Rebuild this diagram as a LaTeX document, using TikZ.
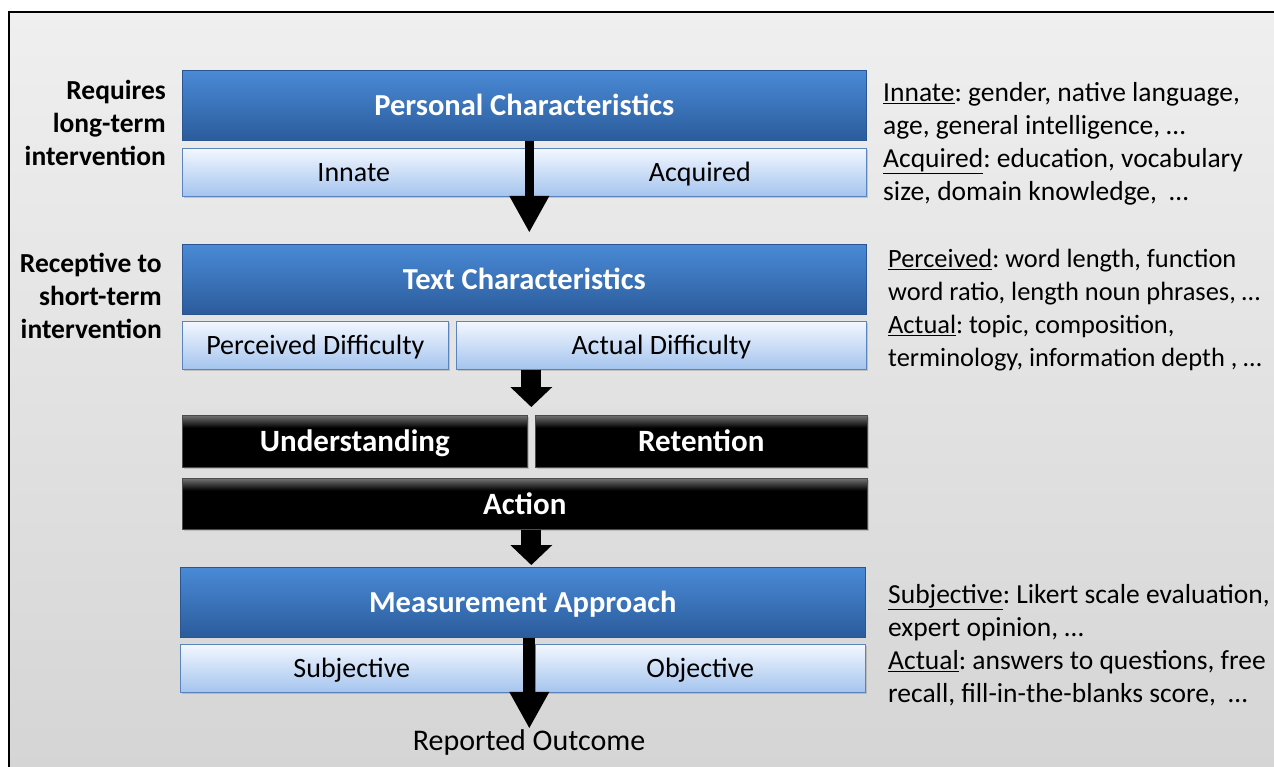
\documentclass[tikz,border=0pt]{standalone}
\usepackage{fontspec}
\setmainfont{Carlito}
\usetikzlibrary{arrows.meta,shadows,calc}
\definecolor{bluetop}{HTML}{4A8AD6}
\definecolor{bluebot}{HTML}{2B5C9C}
\definecolor{blueedge}{HTML}{2A5590}
\definecolor{lighttop}{HTML}{F3F7FF}
\definecolor{lightbot}{HTML}{A4C4EE}
\definecolor{lightedge}{HTML}{5A84BC}
\definecolor{bgtop}{HTML}{EFEFEF}
\definecolor{bgbot}{HTML}{D4D4D4}
\pgfdeclareverticalshading{blkshade}{100bp}{color(0bp)=(black); color(25bp)=(black); color(38bp)=(black); color(50bp)=(black!55)}
\frenchspacing
\begin{document}
\begin{tikzpicture}[x=1pt,y=-1pt,
  bar/.style={anchor=north west, inner sep=0pt, minimum height=70pt,
    top color=bluetop, bottom color=bluebot, draw=blueedge, line width=0.6pt,
    text=white, font=\fontsize{30.5}{34}\selectfont\bfseries,
    text height=27pt, text depth=6.5pt},
  sub/.style={anchor=north west, inner sep=0pt, minimum height=48pt,
    top color=lighttop, bottom color=lightbot, draw=lightedge, line width=0.6pt,
    font=\fontsize{28}{32}\selectfont, text height=24pt, text depth=6pt,
    drop shadow={opacity=0.35, shadow xshift=1.5pt, shadow yshift=-2pt}},
  blk/.style={anchor=north west, inner sep=0pt, minimum height=52pt,
    shading=blkshade, draw=black!70, line width=0.6pt,
    text=white, font=\fontsize{31}{34}\selectfont\bfseries,
    text height=27pt, text depth=6.5pt,
    drop shadow={opacity=0.35, shadow xshift=1.5pt, shadow yshift=-2pt}},
  lefttxt/.style={anchor=north east, inner sep=0pt, align=right,
    font=\fontsize{27.5}{32.8}\selectfont\bfseries},
  righttxt/.style={anchor=north west, inner sep=0pt, align=left,
    font=\fontsize{27.5}{33}\selectfont},
  thinarrow/.style={line width=9pt, -{Triangle[width=40pt,length=36pt,line width=0pt]}},
  fatarrow/.style={line width=20pt, -{Triangle[width=42pt,length=20pt,line width=0pt]}}
]
\useasboundingbox (0,0) rectangle (1274,767);
\clip (0,0) rectangle (1274,767);
\fill[white] (0,0) rectangle (1274,767);
\shade[top color=bgtop, bottom color=bgbot] (9,12) rectangle (1300,800);
\draw[black, line width=2pt] (9,12) rectangle (1300,800);

% Personal characteristics
\node[bar, minimum width=684pt] (pc) at (182,70) {Personal Characteristics};
\node[sub, minimum width=343pt] (innate) at (182,148) {Innate};
\node[sub, minimum width=333pt] (acq) at (533,148) {Acquired};

% Text characteristics
\node[bar, minimum width=684pt] (tc) at (182,244) {Text Characteristics};
\node[sub, minimum width=266pt] (perc) at (182,321) {Perceived Difficulty};
\node[sub, minimum width=410pt] (act) at (456,321) {Actual Difficulty};

% Understanding / Retention / Action
\node[blk, minimum width=345pt] (und) at (182,415) {Understanding};
\node[blk, minimum width=332pt] (ret) at (535,415) {Retention};
\node[blk, minimum width=685pt, minimum height=51pt] (action) at (182,478) {Action};

% Measurement approach
\node[bar, minimum width=685pt] (ma) at (180,567) {Measurement Approach};
\node[sub, minimum width=343pt] (subj) at (180,644) {Subjective};
\node[sub, minimum width=330pt] (obj) at (535,644) {Objective};

\node[inner sep=0pt, font=\fontsize{30}{34}\selectfont] (out) at (529,742) {Reported Outcome};

% midpoints
\path (innate.east) -- (acq.west) coordinate[midway] (m1);
\path (und.east) -- (ret.west) coordinate[midway] (m2);
\path (subj.east) -- (obj.west) coordinate[midway] (m3);

% arrows
\draw[thinarrow, shorten >=12pt] (m1 |- pc.south) -- (m1 |- tc.north);
\draw[fatarrow, shorten >=8pt] (m2 |- act.south) -- (m2 |- und.north);
\draw[fatarrow, shorten >=2pt] (m2 |- action.south) -- (m2 |- ma.north);
\draw[thinarrow, line width=12pt, shorten >=1pt] (m3 |- ma.south) -- (m3 |- out.north);

% left labels
\node[lefttxt] (l1) at (166,80) {Requires\\long-term\\intervention};
\node[lefttxt] (l2) at (162,253) {Receptive to\\short-term\\intervention};

% right notes
\node[righttxt] (r1) at (883,82) {\underline{Innate}: gender, native language,\\age, general intelligence, …\\\underline{Acquired}: education, vocabulary\\size, domain knowledge,\ \ …};
\node[righttxt, font=\fontsize{26.4}{33}\selectfont] (r2) at (888,249) {\underline{Perceived}: word length, function\\word ratio, length noun phrases, …\\\underline{Actual}: topic, composition,\\terminology, information depth , …};
\node[righttxt] (r3) at (888,584) {\underline{Subjective}: Likert scale evaluation,\\expert opinion, …\\\underline{Actual}: answers to questions, free\\recall, fill-in-the-blanks score,\ \ …};
\end{tikzpicture}
\end{document}
